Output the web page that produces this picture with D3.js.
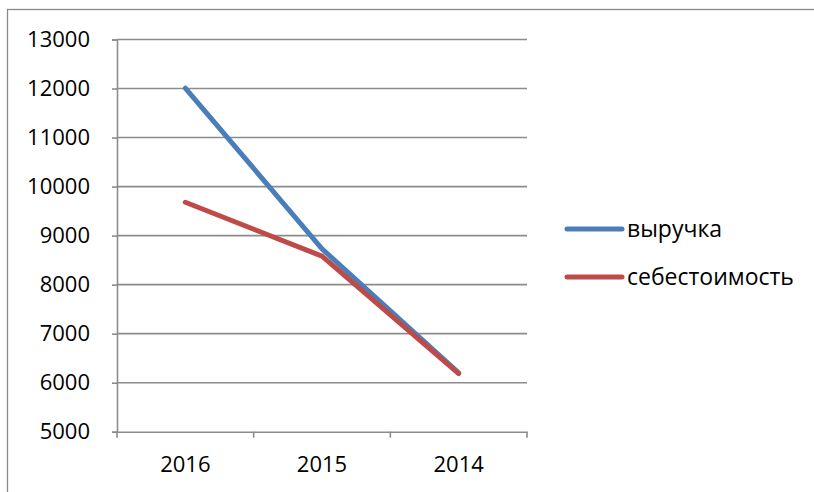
<!DOCTYPE html>
<html><head><meta charset="utf-8">
<script src="https://cdn.jsdelivr.net/npm/d3@7"></script>
<style>body{margin:0;background:#fff}svg{display:block}</style>
</head><body>
<script>
const categories = ["2016", "2015", "2014"];
const revenue = [12010, 8730, 6200];
const cost = [9680, 8580, 6185];
const seriesNames = ["выручка", "себестоимость"];
const seriesColors = ["#4A7EBB", "#BE4B48"];
const yTicks = [5000, 6000, 7000, 8000, 9000, 10000, 11000, 12000, 13000];

const W = 814, H = 492;
const font = "'Open Sans', 'Liberation Sans', sans-serif";
const svg = d3.select("body").append("svg").attr("width", W).attr("height", H);

// outer chart border
svg.append("rect").attr("x", 7.5).attr("y", 9.5).attr("width", W + 10).attr("height", H + 10)
  .attr("fill", "none").attr("stroke", "#8a8a8a").attr("stroke-width", 1.3);

const x = d3.scaleBand().domain(categories).range([117, 527]);
const y = d3.scaleLinear().domain([5000, 13000]).range([431.7, 39.5]);
const grey = "#8c8c8c";

// gridlines
svg.append("g").selectAll("line").data(yTicks.filter(v => v > 5000)).join("line")
  .attr("x1", 117).attr("x2", 527).attr("y1", d => y(d)).attr("y2", d => y(d))
  .attr("stroke", grey).attr("stroke-width", 1.6);

// y axis
const yAxis = svg.append("g").attr("transform", "translate(117,0)")
  .call(d3.axisLeft(y).tickValues(yTicks).tickSize(5).tickPadding(22).tickFormat(d3.format("d")));
yAxis.select(".domain").attr("stroke", grey).attr("stroke-width", 1.6);
yAxis.selectAll(".tick line").attr("stroke", grey).attr("stroke-width", 1.6);
yAxis.selectAll(".tick text").attr("font-family", font).attr("font-size", 22).attr("fill", "#000");

// x axis
const xAxis = svg.append("g").attr("transform", `translate(0,${y(5000)})`)
  .call(d3.axisBottom(x).tickSize(0).tickPadding(0));
xAxis.select(".domain").attr("stroke", grey).attr("stroke-width", 1.6);
xAxis.selectAll(".tick text").attr("font-family", font).attr("font-size", 22).attr("fill", "#000")
  .attr("dy", "0").attr("y", 40.5);
// x tick marks at category boundaries
svg.append("g").selectAll("line").data(categories).join("line")
  .attr("x1", d => x(d) + x.bandwidth()).attr("x2", d => x(d) + x.bandwidth())
  .attr("y1", y(5000)).attr("y2", y(5000) + 6)
  .attr("stroke", grey).attr("stroke-width", 1.6);
svg.append("line").attr("x1", 117).attr("x2", 117).attr("y1", y(5000)).attr("y2", y(5000) + 6)
  .attr("stroke", grey).attr("stroke-width", 1.6);

const cx = d => x(d) + x.bandwidth() / 2;
const line = d3.line().x((d, i) => cx(categories[i])).y(d => y(d));
[revenue, cost].forEach((s, k) => {
  svg.append("path").datum(s).attr("d", line).attr("fill", "none")
    .attr("stroke", seriesColors[k]).attr("stroke-width", 5)
    .attr("stroke-linecap", "round").attr("stroke-linejoin", "round");
});

// legend
const legY = [229, 277];
seriesNames.forEach((n, k) => {
  svg.append("line").attr("x1", 567).attr("x2", 622).attr("y1", legY[k]).attr("y2", legY[k])
    .attr("stroke", seriesColors[k]).attr("stroke-width", 5).attr("stroke-linecap", "round");
  svg.append("text").attr("x", 627).attr("y", legY[k]).attr("dy", "0.35em")
    .attr("font-family", font).attr("font-size", 23).attr("fill", "#000").text(n);
});
</script>
</body></html>
